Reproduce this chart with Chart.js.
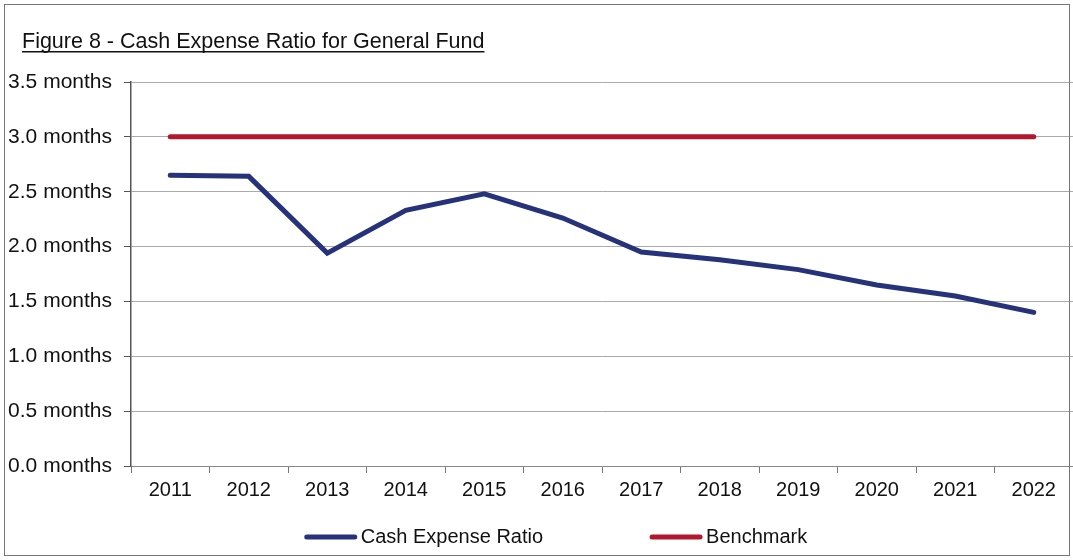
<!DOCTYPE html>
<html>
<head>
<meta charset="utf-8">
<script src="https://cdn.jsdelivr.net/npm/chart.js@4.4.0/dist/chart.umd.min.js"></script>
<style>
  html, body { margin: 0; padding: 0; background: #fff; }
  #wrap { width: 1073px; height: 560px; position: relative; }
</style>
</head>
<body>
<div id="wrap"><canvas id="cashChart"></canvas></div>
<script>
const years = ["2011", "2012", "2013", "2014", "2015", "2016", "2017", "2018", "2019", "2020", "2021", "2022"];
const cashExpenseRatio = [2.65, 2.64, 1.94, 2.33, 2.48, 2.26, 1.95, 1.88, 1.79, 1.65, 1.55, 1.40];
const benchmark = [3.0, 3.0, 3.0, 3.0, 3.0, 3.0, 3.0, 3.0, 3.0, 3.0, 3.0, 3.0];
const yTickValues = [0, 0.5, 1.0, 1.5, 2.0, 2.5, 3.0, 3.5];

const FONT = "'Liberation Sans', Arial, sans-serif";
const TITLE = "Figure 8 - Cash Expense Ratio for General Fund";

// underlined title, frame lines and the wide-spaced legend of the original
const decorations = {
  id: "decorations",
  afterDraw(chart) {
    const ctx = chart.ctx;
    ctx.save();

    // frame
    ctx.strokeStyle = "#777";
    ctx.lineWidth = 1;
    ctx.strokeRect(4.5, 4.5, 1065, 551);

    // title
    ctx.font = "21.5px " + FONT;
    ctx.fillStyle = "#111";
    ctx.textBaseline = "alphabetic";
    ctx.fillText(TITLE, 22, 48);
    const w = ctx.measureText(TITLE).width;
    ctx.fillRect(22, 51, w, 1.5);

    // legend
    ctx.font = "20px " + FONT;
    const items = chart.data.datasets.map((ds) => ({
      label: ds.label,
      color: ds.borderColor,
      width: 52 + 4 + ctx.measureText(ds.label).width,
    }));
    const gap = 107;
    const total = items.reduce((s, it) => s + it.width, 0) + gap * (items.length - 1);
    let x = 556 - total / 2;
    const y = 537;
    items.forEach((it) => {
      ctx.strokeStyle = it.color;
      ctx.lineWidth = 5;
      ctx.lineCap = "round";
      ctx.beginPath();
      ctx.moveTo(x + 2, y);
      ctx.lineTo(x + 50, y);
      ctx.stroke();
      ctx.fillStyle = "#111";
      ctx.textBaseline = "middle";
      ctx.fillText(it.label, x + 56, y);
      x += it.width + gap;
    });
    ctx.restore();
  },
};

new Chart(document.getElementById("cashChart"), {
  type: "line",
  data: {
    labels: years,
    datasets: [
      {
        label: "Cash Expense Ratio",
        data: cashExpenseRatio,
        borderColor: "#26327a",
        backgroundColor: "#26327a",
        borderWidth: 5,
        tension: 0,
        pointRadius: 0,
        borderCapStyle: "round",
        borderJoinStyle: "miter",
      },
      {
        label: "Benchmark",
        data: benchmark,
        borderColor: "#b2172d",
        backgroundColor: "#b2172d",
        borderWidth: 5,
        tension: 0,
        pointRadius: 0,
        borderCapStyle: "round",
      },
    ],
  },
  options: {
    responsive: true,
    maintainAspectRatio: false,
    animation: false,
    layout: {
      padding: { top: 82, left: 3, right: 0, bottom: 53 },
    },
    plugins: {
      legend: { display: false },
      title: { display: false },
      tooltip: { enabled: false },
    },
    scales: {
      x: {
        offset: true,
        grid: {
          offset: true,
          drawOnChartArea: false,
          color: "#777",
          tickLength: 7,
        },
        border: { color: "#888", width: 1 },
        ticks: {
          color: "#111",
          padding: 5,
          maxRotation: 0,
          font: { family: FONT, size: 20 },
        },
      },
      y: {
        min: 0,
        max: 3.5,
        afterBuildTicks(scale) {
          scale.ticks = yTickValues.map((v) => ({ value: v }));
        },
        afterFit(scale) {
          scale.width = 128;
        },
        grid: {
          color: "#aaa",
          tickColor: "#555",
          tickLength: 7,
        },
        border: { color: "#555", width: 1.5 },
        ticks: {
          color: "#111",
          padding: 12,
          font: { family: FONT, size: 21 },
          callback: (v) => Number(v).toFixed(1) + " months",
        },
      },
    },
  },
  plugins: [decorations],
});
</script>
</body>
</html>
